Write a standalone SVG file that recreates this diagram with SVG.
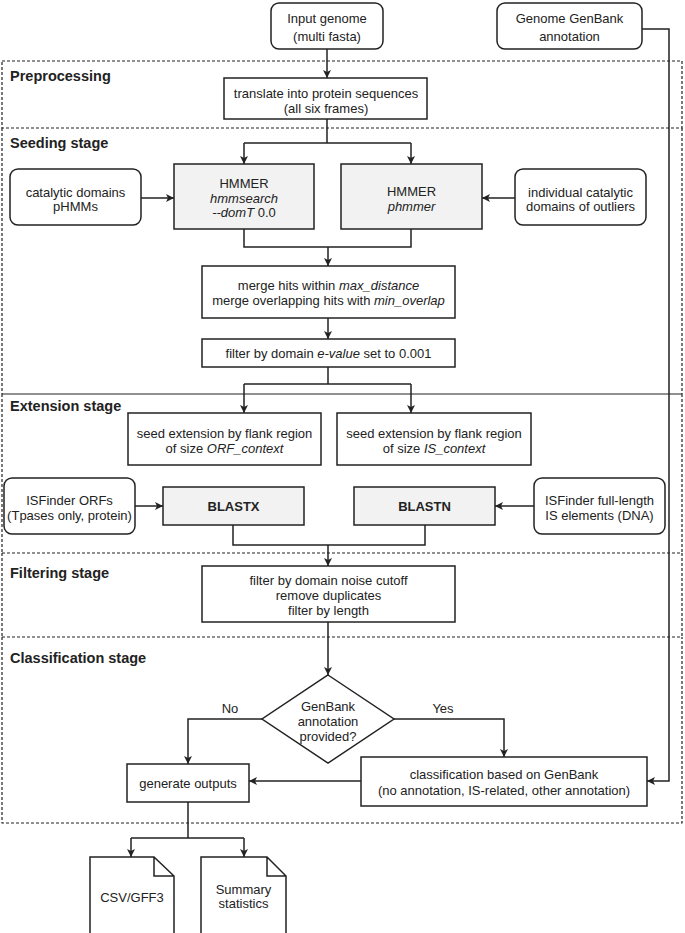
<svg xmlns="http://www.w3.org/2000/svg" width="685" height="933" viewBox="0 0 685 933">
<defs>
<marker id="ah" viewBox="0 0 10 10" refX="10" refY="5" markerWidth="8" markerHeight="8" markerUnits="userSpaceOnUse" orient="auto">
<path d="M0,0 L10,5 L0,10 L2.5,5 z" fill="#222"/>
</marker>
<style>
.t{font-family:"Liberation Sans",Arial,sans-serif;font-size:13px;fill:#222;text-anchor:middle}
.b{font-weight:bold}
.i{font-style:italic}
.st{font-family:"Liberation Sans",Arial,sans-serif;font-size:14.5px;font-weight:bold;fill:#222}
.box{fill:#fff;stroke:#222;stroke-width:1.5}
.gbox{fill:#f2f2f2;stroke:#222;stroke-width:1.5}
.dash{fill:none;stroke:#222;stroke-width:1.2;stroke-dasharray:3,2}
.solid{fill:none;stroke:#222;stroke-width:1.2}
.c{fill:none;stroke:#222;stroke-width:1.5}
.ca{fill:none;stroke:#222;stroke-width:1.5;marker-end:url(#ah)}
</style>
</defs>
<rect width="685" height="933" fill="#fff"/>

<g id="stages">
<rect class="dash" x="2" y="61" width="680" height="67"/>
<path class="dash" d="M2,128 V394 M682,128 V394"/>
<path class="solid" d="M2,394 H682"/>
<path class="dash" d="M2,394 V553 M682,394 V553 M2,553 H682"/>
<path class="dash" d="M2,553 V637 M682,553 V637 M2,637 H682"/>
<path class="dash" d="M2,637 V823 H682 V637"/>
<text class="st" x="10" y="81">Preprocessing</text>
<text class="st" x="10" y="148">Seeding stage</text>
<text class="st" x="10" y="411">Extension stage</text>
<text class="st" x="10" y="578">Filtering stage</text>
<text class="st" x="10" y="663">Classification stage</text>
</g>

<g id="connectors">
<path class="ca" d="M327,49 V78"/>
<path class="c" d="M327,119 V143 M244,143 H411"/>
<path class="ca" d="M244,143 V164"/>
<path class="ca" d="M411,143 V164"/>
<path class="ca" d="M141,198 H174"/>
<path class="ca" d="M515,198 H482"/>
<path class="c" d="M244,229 V247 H411 V229"/>
<path class="ca" d="M328,247 V266"/>
<path class="ca" d="M328,318 V339"/>
<path class="c" d="M328,367 V384 M244,384 H411"/>
<path class="ca" d="M244,384 V413"/>
<path class="ca" d="M411,384 V413"/>
<path class="ca" d="M135,506 H163"/>
<path class="ca" d="M534,506 H495"/>
<path class="c" d="M233,525 V545 H425 V525"/>
<path class="ca" d="M328,545 V566"/>
<path class="ca" d="M328,622 V675"/>
<path class="ca" d="M262,719 H188 V764"/>
<path class="ca" d="M394,719 H504 V757"/>
<path class="ca" d="M361,781 H249"/>
<path class="ca" d="M642,29 H669 V781 H647"/>
<path class="c" d="M188,802 V838 M131,838 H244"/>
<path class="ca" d="M131,838 V857"/>
<path class="ca" d="M244,838 V857"/>
<text class="t" x="230" y="713">No</text>
<text class="t" x="443" y="713">Yes</text>
</g>

<g id="input-genome">
<rect class="box" x="271" y="3" width="112" height="46" rx="8"/>
<text class="t" x="327" y="23">Input genome</text>
<text class="t" x="327" y="41">(multi fasta)</text>
</g>
<g id="genbank-annotation">
<rect class="box" x="497" y="3" width="145" height="46" rx="8"/>
<text class="t" x="569.5" y="23">Genome GenBank</text>
<text class="t" x="569.5" y="41">annotation</text>
</g>
<g id="translate">
<rect class="box" x="224" y="78" width="203" height="41"/>
<text class="t" x="326" y="97.5">translate into protein sequences</text>
<text class="t" x="326" y="112.5">(all six frames)</text>
</g>
<g id="catalytic-domains">
<rect class="box" x="10" y="169" width="131" height="56" rx="8"/>
<text class="t" x="75.5" y="196.5">catalytic domains</text>
<text class="t" x="75.5" y="210.5">pHMMs</text>
</g>
<g id="hmmsearch">
<rect class="gbox" x="174" y="164" width="140" height="65"/>
<text class="t" x="244" y="187.5">HMMER</text>
<text class="t i" x="244" y="202.5">hmmsearch</text>
<text class="t" x="244" y="216.5"><tspan class="i">--domT</tspan> 0.0</text>
</g>
<g id="phmmer">
<rect class="gbox" x="341" y="164" width="141" height="65"/>
<text class="t" x="411.5" y="195.5">HMMER</text>
<text class="t i" x="411.5" y="210.5">phmmer</text>
</g>
<g id="outlier-domains">
<rect class="box" x="515" y="169" width="131" height="56" rx="8"/>
<text class="t" x="580.5" y="196.5">individual catalytic</text>
<text class="t" x="580.5" y="210.5">domains of outliers</text>
</g>
<g id="merge">
<rect class="box" x="202" y="266" width="253" height="52"/>
<text class="t" x="328.5" y="289.5">merge hits within <tspan class="i">max_distance</tspan></text>
<text class="t" x="328.5" y="304.5">merge overlapping hits with <tspan class="i">min_overlap</tspan></text>
</g>
<g id="filter-evalue">
<rect class="box" x="202" y="339" width="253" height="28"/>
<text class="t" x="328.5" y="357.5">filter by domain <tspan class="i">e-value</tspan> set to 0.001</text>
</g>
<g id="seed-orf">
<rect class="box" x="128" y="413" width="193" height="52"/>
<text class="t" x="224.5" y="437.5">seed extension by flank region</text>
<text class="t" x="224.5" y="452.5">of size <tspan class="i">ORF_context</tspan></text>
</g>
<g id="seed-is">
<rect class="box" x="337" y="413" width="194" height="52"/>
<text class="t" x="434" y="437.5">seed extension by flank region</text>
<text class="t" x="434" y="452.5">of size <tspan class="i">IS_context</tspan></text>
</g>
<g id="isfinder-orfs">
<rect class="box" x="4" y="478" width="131" height="56" rx="8"/>
<text class="t" x="69.5" y="504.5">ISFinder ORFs</text>
<text class="t" x="69.5" y="519.5">(Tpases only, protein)</text>
</g>
<g id="blastx">
<rect class="gbox" x="163" y="487" width="141" height="38"/>
<text class="t b" x="233.5" y="511">BLASTX</text>
</g>
<g id="blastn">
<rect class="gbox" x="354" y="487" width="141" height="38"/>
<text class="t b" x="424.5" y="511">BLASTN</text>
</g>
<g id="isfinder-full">
<rect class="box" x="534" y="478" width="131" height="56" rx="8"/>
<text class="t" x="599.5" y="504.5">ISFinder full-length</text>
<text class="t" x="599.5" y="519.5">IS elements (DNA)</text>
</g>
<g id="filter-noise">
<rect class="box" x="202" y="566" width="253" height="56"/>
<text class="t" x="328.5" y="584.5">filter by domain noise cutoff</text>
<text class="t" x="328.5" y="599.5">remove duplicates</text>
<text class="t" x="328.5" y="614.5">filter by length</text>
</g>
<g id="genbank-decision">
<path class="box" d="M328,675 L394,719 L328,763 L262,719 Z"/>
<text class="t" x="328" y="710.5">GenBank</text>
<text class="t" x="328" y="725.5">annotation</text>
<text class="t" x="328" y="740.5">provided?</text>
</g>
<g id="generate-outputs">
<rect class="box" x="127" y="764" width="122" height="38"/>
<text class="t" x="188" y="787.5">generate outputs</text>
</g>
<g id="classification">
<rect class="box" x="361" y="757" width="286" height="49"/>
<text class="t" x="504" y="778.5">classification based on GenBank</text>
<text class="t" x="504" y="794.5">(no annotation, IS-related, other annotation)</text>
</g>
<g id="csv-gff3">
<path class="box" d="M90,857 H154 L174,876 V940 H90 Z M154,857 V876 H174"/>
<text class="t" x="132" y="901.5">CSV/GFF3</text>
</g>
<g id="summary-statistics">
<path class="box" d="M201,857 H267 L286,876 V940 H201 Z M267,857 V876 H286"/>
<text class="t" x="243.5" y="893.5">Summary</text>
<text class="t" x="243.5" y="907.5">statistics</text>
</g>
</svg>
